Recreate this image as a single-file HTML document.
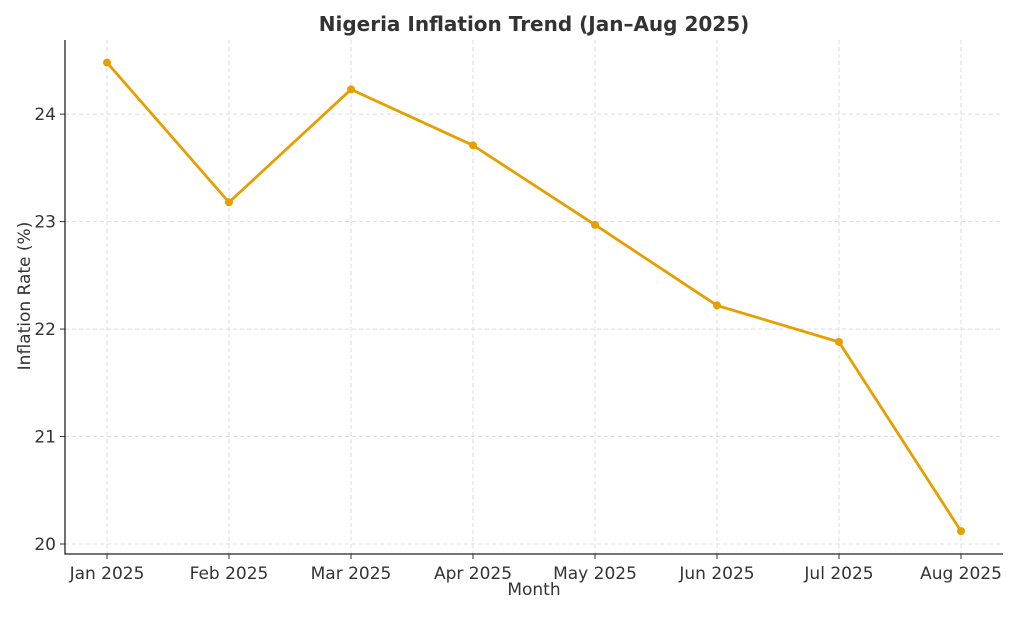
<!DOCTYPE html>
<html><head><meta charset="utf-8"><style>
body{margin:0;background:#fff;}
svg text{font-family:"DejaVu Sans","Liberation Sans",sans-serif;fill:#333;}
</style></head><body>
<svg id="chart" width="1024" height="614" xmlns="http://www.w3.org/2000/svg">
<text x="534" y="31" text-anchor="middle" font-size="20" font-weight="bold">Nigeria Inflation Trend (Jan–Aug 2025)</text>
<g id="grid"></g>
<g id="axes"></g>
<g id="series"></g>
<text x="534" y="595" text-anchor="middle" font-size="17">Month</text>
<text transform="translate(30,296) rotate(-90)" text-anchor="middle" font-size="17">Inflation Rate (%)</text>
</svg>
<script>
const categories=["Jan 2025","Feb 2025","Mar 2025","Apr 2025","May 2025","Jun 2025","Jul 2025","Aug 2025"];
const inflation=[24.48,23.18,24.23,23.71,22.97,22.22,21.88,20.12];
const yTicks=[20,21,22,23,24];
const NS="http://www.w3.org/2000/svg";
const L=65,R=1003,T=40,B=554;
const yMin=19.907,yMax=24.69;
const x0=107,x1=961;
function xs(i){return x0+(x1-x0)*i/(categories.length-1);}
function ys(v){return B-(v-yMin)/(yMax-yMin)*(B-T);}
function mk(tag,attrs,parent){const e=document.createElementNS(NS,tag);for(const k in attrs)e.setAttribute(k,attrs[k]);parent.appendChild(e);return e;}
const grid=document.getElementById('grid'),axes=document.getElementById('axes'),series=document.getElementById('series');
categories.forEach((c,i)=>{
 const g=mk('line',{x1:xs(i),x2:xs(i),y1:T,y2:B,stroke:'#d6d6d6','stroke-dasharray':'4,3','stroke-width':0.8},grid);
 
 
 mk('line',{x1:xs(i),x2:xs(i),y1:B,y2:B+5,stroke:'#333'},axes);
 const t=mk('text',{x:xs(i),y:B+25,'text-anchor':'middle','font-size':17},axes);
 t.textContent=c;
 
 
});
yTicks.forEach(v=>{
 const g=mk('line',{x1:L,x2:R,y1:ys(v),y2:ys(v),stroke:'#d6d6d6','stroke-dasharray':'4,3','stroke-width':0.8},grid);
 
 
 mk('line',{x1:L-5,x2:L,y1:ys(v),y2:ys(v),stroke:'#333'},axes);
 const t=mk('text',{x:L-9,y:ys(v)+6,'text-anchor':'end','font-size':17},axes);
 t.textContent=v;
 
 
});
const sp=mk('path',{d:`M${L},${T}V${B}H${R}`,fill:'none',stroke:'#222','stroke-width':1.3},axes);


const line=mk('polyline',{points:inflation.map((v,i)=>xs(i)+','+ys(v)).join(' '),fill:'none',stroke:'#E69F00','stroke-width':2.8},series);


inflation.forEach((v,i)=>{
 const p=mk('circle',{cx:xs(i),cy:ys(v),r:4,fill:'#E69F00'},series);
 
 
});
</script>
</body></html>
